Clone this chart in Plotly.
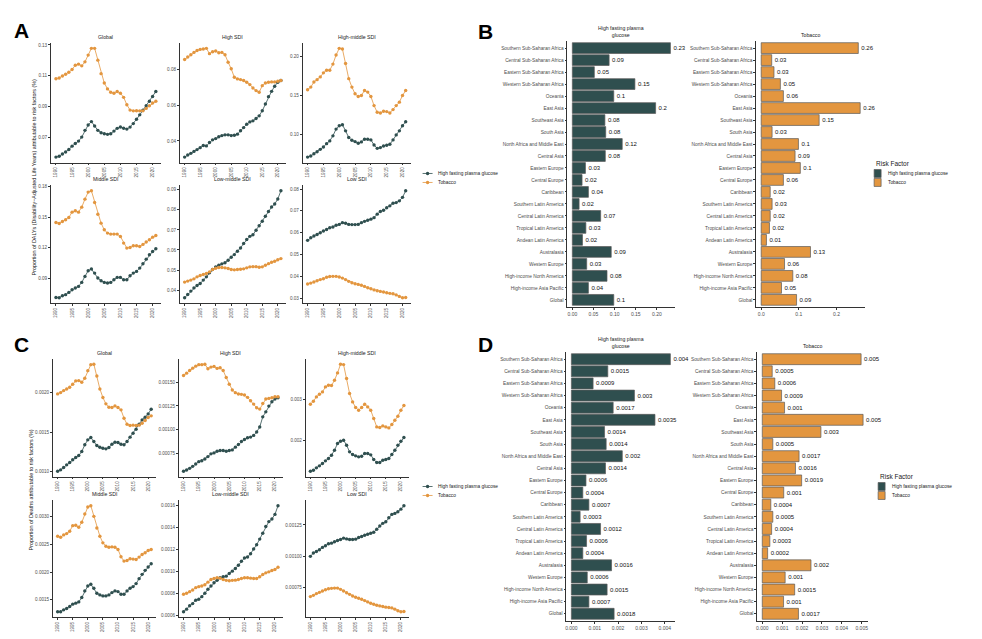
import plotly.graph_objects as go

W, H = 982, 639
OFF = 8  # the page body margin shifts the plot by this many pixels
DARK = "#2F4F4F"
ORANGE = "#E3963F"
EDGE = "#5A5A5A"
AXIS = "#333333"
TICKTXT = "#4D4D4D"
FONT = "Liberation Sans, Arial, sans-serif"

years = list(range(1990, 2022))
panel_names = ["Global", "High SDI", "High-middle SDI", "Middle SDI", "Low-middle SDI", "Low SDI"]

# A: proportion of DALYs attributable to risk factors
a_glu_global = [0.0570, 0.0575, 0.0590, 0.0603, 0.0619, 0.0641, 0.0658, 0.0674, 0.0700, 0.0744, 0.0779, 0.0801, 0.0772, 0.0744, 0.0728, 0.0722,
                0.0718, 0.0722, 0.0739, 0.0757, 0.0766, 0.0758, 0.0752, 0.0765, 0.0788, 0.0816, 0.0845, 0.0876, 0.0904, 0.0933, 0.0964, 0.0997]
a_tob_global = [0.1080, 0.1085, 0.1098, 0.1109, 0.1122, 0.1140, 0.1168, 0.1175, 0.1164, 0.1190, 0.1234, 0.1278, 0.1278, 0.1201, 0.1113, 0.1052,
                0.1014, 0.0992, 0.0986, 0.0997, 0.0986, 0.0959, 0.0911, 0.0876, 0.0871, 0.0872, 0.0871, 0.0871, 0.0887, 0.0904, 0.0922, 0.0933]
a_glu_high = [0.0309, 0.0321, 0.0330, 0.0341, 0.0351, 0.0362, 0.0374, 0.0372, 0.0391, 0.0406, 0.0413, 0.0423, 0.0430, 0.0434, 0.0434, 0.0430,
              0.0432, 0.0438, 0.0457, 0.0475, 0.0494, 0.0507, 0.0513, 0.0526, 0.0541, 0.0570, 0.0608, 0.0649, 0.0679, 0.0708, 0.0730, 0.0740]
a_tob_high = [0.0858, 0.0872, 0.0885, 0.0898, 0.0909, 0.0915, 0.0917, 0.0921, 0.0891, 0.0902, 0.0906, 0.0896, 0.0898, 0.0885, 0.0843, 0.0806,
              0.0758, 0.0749, 0.0745, 0.0740, 0.0730, 0.0717, 0.0698, 0.0683, 0.0674, 0.0711, 0.0726, 0.0730, 0.0732, 0.0732, 0.0736, 0.0740]
a_glu_hm = [0.0707, 0.0720, 0.0750, 0.0776, 0.0806, 0.0836, 0.0879, 0.0914, 0.0979, 0.1065, 0.1108, 0.1121, 0.1043, 0.0957, 0.0922, 0.0905,
            0.0884, 0.0901, 0.0935, 0.0935, 0.0927, 0.0862, 0.0819, 0.0828, 0.0849, 0.0858, 0.0871, 0.0927, 0.0991, 0.1043, 0.1108, 0.1160]
a_tob_hm = [0.1569, 0.1603, 0.1668, 0.1698, 0.1733, 0.1785, 0.1819, 0.1819, 0.1897, 0.2013, 0.2099, 0.2091, 0.1905, 0.1711, 0.1603, 0.1517,
            0.1483, 0.1496, 0.1560, 0.1539, 0.1483, 0.1366, 0.1280, 0.1272, 0.1293, 0.1289, 0.1272, 0.1315, 0.1366, 0.1410, 0.1496, 0.1560]
a_glu_mid = [0.0714, 0.0711, 0.0731, 0.0741, 0.0763, 0.0789, 0.0806, 0.0822, 0.0861, 0.0920, 0.0975, 0.0992, 0.0952, 0.0904, 0.0877, 0.0861,
             0.0855, 0.0861, 0.0887, 0.0910, 0.0910, 0.0887, 0.0887, 0.0926, 0.0952, 0.0969, 0.1001, 0.1044, 0.1089, 0.1132, 0.1164, 0.1190]
a_tob_mid = [0.1448, 0.1438, 0.1458, 0.1474, 0.1497, 0.1549, 0.1562, 0.1549, 0.1598, 0.1676, 0.1745, 0.1758, 0.1644, 0.1529, 0.1441, 0.1376,
             0.1344, 0.1334, 0.1334, 0.1334, 0.1311, 0.1246, 0.1197, 0.1203, 0.1220, 0.1220, 0.1213, 0.1233, 0.1256, 0.1278, 0.1304, 0.1321]
a_glu_lm = [0.0362, 0.0378, 0.0395, 0.0411, 0.0423, 0.0433, 0.0450, 0.0466, 0.0486, 0.0503, 0.0516, 0.0524, 0.0531, 0.0536, 0.0549, 0.0564,
            0.0577, 0.0594, 0.0610, 0.0632, 0.0652, 0.0668, 0.0676, 0.0698, 0.0721, 0.0743, 0.0768, 0.0792, 0.0814, 0.0829, 0.0854, 0.0895]
a_tob_lm = [0.0440, 0.0445, 0.0450, 0.0456, 0.0466, 0.0473, 0.0478, 0.0483, 0.0491, 0.0503, 0.0509, 0.0513, 0.0513, 0.0511, 0.0508, 0.0503,
            0.0501, 0.0503, 0.0504, 0.0506, 0.0511, 0.0516, 0.0517, 0.0517, 0.0514, 0.0516, 0.0524, 0.0532, 0.0539, 0.0544, 0.0551, 0.0557]
a_glu_low = [0.0565, 0.0577, 0.0585, 0.0592, 0.0600, 0.0608, 0.0615, 0.0623, 0.0626, 0.0634, 0.0638, 0.0646, 0.0643, 0.0638, 0.0637, 0.0637,
             0.0638, 0.0646, 0.0652, 0.0657, 0.0662, 0.0669, 0.0685, 0.0697, 0.0703, 0.0714, 0.0723, 0.0735, 0.0738, 0.0746, 0.0762, 0.0792]
a_tob_low = [0.0365, 0.0369, 0.0374, 0.0380, 0.0385, 0.0389, 0.0396, 0.0399, 0.0400, 0.0400, 0.0397, 0.0392, 0.0385, 0.0377, 0.0371, 0.0366,
             0.0363, 0.0359, 0.0354, 0.0348, 0.0343, 0.0338, 0.0334, 0.0331, 0.0328, 0.0325, 0.0322, 0.0320, 0.0315, 0.0308, 0.0302, 0.0303]

# C: proportion of deaths attributable to risk factors
c_glu_global = [0.001004, 0.001021, 0.001051, 0.001084, 0.001114, 0.001148, 0.001177, 0.001203, 0.001253, 0.001338, 0.001401, 0.001430, 0.001380, 0.001329, 0.001308, 0.001295,
                0.001287, 0.001304, 0.001346, 0.001371, 0.001367, 0.001346, 0.001338, 0.001380, 0.001435, 0.001485, 0.001536, 0.001599, 0.001654, 0.001688, 0.001730, 0.001789]
c_tob_global = [0.001983, 0.002000, 0.002025, 0.002046, 0.002068, 0.002105, 0.002148, 0.002152, 0.002131, 0.002181, 0.002278, 0.002354, 0.002359, 0.002211, 0.002046, 0.001937,
                0.001857, 0.001814, 0.001810, 0.001831, 0.001810, 0.001781, 0.001675, 0.001599, 0.001582, 0.001587, 0.001582, 0.001587, 0.001612, 0.001646, 0.001684, 0.001705]
c_glu_high = [0.000560, 0.000572, 0.000590, 0.000611, 0.000636, 0.000661, 0.000671, 0.000689, 0.000714, 0.000743, 0.000753, 0.000771, 0.000778, 0.000778, 0.000771, 0.000778,
              0.000785, 0.000814, 0.000842, 0.000874, 0.000895, 0.000913, 0.000920, 0.000938, 0.000974, 0.001027, 0.001134, 0.001187, 0.001248, 0.001294, 0.001322, 0.001336]
c_tob_high = [0.001571, 0.001596, 0.001624, 0.001649, 0.001670, 0.001686, 0.001686, 0.001690, 0.001642, 0.001660, 0.001667, 0.001646, 0.001653, 0.001624, 0.001550, 0.001479,
              0.001418, 0.001390, 0.001376, 0.001372, 0.001365, 0.001340, 0.001304, 0.001269, 0.001230, 0.001216, 0.001276, 0.001322, 0.001329, 0.001336, 0.001347, 0.001347]
c_glu_hm = [0.001272, 0.001296, 0.001352, 0.001400, 0.001456, 0.001520, 0.001576, 0.001656, 0.001776, 0.001936, 0.001992, 0.002016, 0.001896, 0.001736, 0.001672, 0.001640,
            0.001616, 0.001632, 0.001696, 0.001696, 0.001664, 0.001552, 0.001480, 0.001480, 0.001536, 0.001552, 0.001576, 0.001672, 0.001776, 0.001896, 0.001992, 0.002080]
c_tob_hm = [0.002880, 0.002952, 0.003056, 0.003120, 0.003176, 0.003296, 0.003336, 0.003328, 0.003456, 0.003632, 0.003840, 0.003832, 0.003496, 0.003136, 0.002936, 0.002800,
            0.002736, 0.002800, 0.002880, 0.002816, 0.002736, 0.002536, 0.002336, 0.002320, 0.002360, 0.002336, 0.002312, 0.002392, 0.002496, 0.002592, 0.002736, 0.002848]
c_glu_mid = [0.001286, 0.001286, 0.001321, 0.001345, 0.001381, 0.001423, 0.001441, 0.001464, 0.001542, 0.001661, 0.001750, 0.001780, 0.001708, 0.001619, 0.001589, 0.001571,
             0.001571, 0.001589, 0.001631, 0.001661, 0.001649, 0.001601, 0.001601, 0.001661, 0.001708, 0.001738, 0.001792, 0.001881, 0.001958, 0.002030, 0.002089, 0.002149]
c_tob_mid = [0.002643, 0.002625, 0.002667, 0.002690, 0.002732, 0.002833, 0.002839, 0.002804, 0.002893, 0.003042, 0.003167, 0.003190, 0.003000, 0.002792, 0.002643, 0.002524,
             0.002464, 0.002446, 0.002452, 0.002446, 0.002405, 0.002274, 0.002196, 0.002208, 0.002238, 0.002232, 0.002226, 0.002268, 0.002316, 0.002345, 0.002387, 0.002405]
c_glu_lm = [0.000636, 0.000660, 0.000690, 0.000710, 0.000740, 0.000749, 0.000773, 0.000803, 0.000839, 0.000869, 0.000899, 0.000920, 0.000943, 0.000952, 0.000958, 0.000982,
            0.001003, 0.001027, 0.001057, 0.001093, 0.001122, 0.001131, 0.001161, 0.001203, 0.001242, 0.001293, 0.001346, 0.001406, 0.001451, 0.001475, 0.001516, 0.001594]
c_tob_lm = [0.000794, 0.000803, 0.000818, 0.000833, 0.000854, 0.000863, 0.000869, 0.000881, 0.000904, 0.000928, 0.000937, 0.000943, 0.000940, 0.000928, 0.000920, 0.000916,
            0.000920, 0.000922, 0.000928, 0.000937, 0.000943, 0.000943, 0.000940, 0.000937, 0.000937, 0.000952, 0.000973, 0.000988, 0.000997, 0.001009, 0.001018, 0.001039]
c_glu_low = [0.001000, 0.001026, 0.001039, 0.001053, 0.001071, 0.001084, 0.001100, 0.001105, 0.001116, 0.001126, 0.001134, 0.001145, 0.001139, 0.001134, 0.001134, 0.001137,
             0.001150, 0.001158, 0.001168, 0.001176, 0.001184, 0.001192, 0.001216, 0.001242, 0.001263, 0.001276, 0.001308, 0.001334, 0.001342, 0.001355, 0.001376, 0.001403]
c_tob_low = [0.000679, 0.000689, 0.000703, 0.000713, 0.000724, 0.000734, 0.000742, 0.000745, 0.000747, 0.000747, 0.000737, 0.000724, 0.000710, 0.000697, 0.000684, 0.000674,
             0.000666, 0.000658, 0.000647, 0.000637, 0.000626, 0.000618, 0.000610, 0.000605, 0.000600, 0.000595, 0.000592, 0.000589, 0.000579, 0.000566, 0.000558, 0.000560]

# B / D: by region
bar_regions = ["Southern Sub-Saharan Africa", "Central Sub-Saharan Africa", "Eastern Sub-Saharan Africa", "Western Sub-Saharan Africa",
               "Oceania", "East Asia", "Southeast Asia", "South Asia", "North Africa and Middle East", "Central Asia",
               "Eastern Europe", "Central Europe", "Caribbean", "Southern Latin America", "Central Latin America",
               "Tropical Latin America", "Andean Latin America", "Australasia", "Western Europe",
               "High-income North America", "High-income Asia Pacific", "Global"]
b_glucose = [0.232, 0.087, 0.052, 0.148, 0.098, 0.197, 0.077, 0.079, 0.118, 0.078, 0.031,
             0.023, 0.038, 0.016, 0.067, 0.032, 0.024, 0.092, 0.034, 0.082, 0.038, 0.098]
b_glucose_lbl = ["0.23", "0.09", "0.05", "0.15", "0.1", "0.2", "0.08", "0.08", "0.12", "0.08", "0.03",
                 "0.02", "0.04", "0.02", "0.07", "0.03", "0.02", "0.09", "0.03", "0.08", "0.04", "0.1"]
b_tobacco = [0.258, 0.028, 0.034, 0.051, 0.059, 0.263, 0.154, 0.029, 0.099, 0.090, 0.104,
             0.059, 0.024, 0.029, 0.024, 0.022, 0.014, 0.131, 0.062, 0.084, 0.054, 0.094]
b_tobacco_lbl = ["0.26", "0.03", "0.03", "0.05", "0.06", "0.26", "0.15", "0.03", "0.1", "0.09", "0.1",
                 "0.06", "0.02", "0.03", "0.02", "0.02", "0.01", "0.13", "0.06", "0.08", "0.05", "0.09"]
d_glucose = [0.00424, 0.00156, 0.00093, 0.00270, 0.00179, 0.00358, 0.00142, 0.00149, 0.00218, 0.00146, 0.000625,
             0.00049, 0.00075, 0.000375, 0.00125, 0.00065, 0.00049, 0.00172, 0.00068, 0.00153, 0.00075, 0.00183]
d_glucose_lbl = ["0.004", "0.0015", "0.0009", "0.003", "0.0017", "0.0035", "0.0014", "0.0014", "0.002", "0.0014", "0.0006",
                 "0.0004", "0.0007", "0.0003", "0.0012", "0.0006", "0.0004", "0.0016", "0.0006", "0.0015", "0.0007", "0.0018"]
d_tobacco = [0.00497, 0.00050, 0.00063, 0.00097, 0.00112, 0.00507, 0.00295, 0.00053, 0.00185, 0.00167, 0.00198,
             0.00108, 0.00043, 0.00053, 0.00047, 0.00038, 0.00027, 0.00245, 0.00115, 0.00163, 0.00107, 0.00182]
d_tobacco_lbl = ["0.005", "0.0005", "0.0006", "0.0009", "0.001", "0.005", "0.003", "0.0005", "0.0017", "0.0016", "0.0019",
                 "0.001", "0.0004", "0.0005", "0.0004", "0.0003", "0.0002", "0.002", "0.001", "0.0015", "0.001", "0.0017"]

a_glucose = [a_glu_global, a_glu_high, a_glu_hm, a_glu_mid, a_glu_lm, a_glu_low]
a_tobacco = [a_tob_global, a_tob_high, a_tob_hm, a_tob_mid, a_tob_lm, a_tob_low]
c_glucose = [c_glu_global, c_glu_high, c_glu_hm, c_glu_mid, c_glu_lm, c_glu_low]
c_tobacco = [c_tob_global, c_tob_high, c_tob_hm, c_tob_mid, c_tob_lm, c_tob_low]

# tick0, dtick, format for each small multiple
a_ticks = [(0.01, 0.02, ".2f"), (0, 0.02, ".2f"), (0, 0.05, ".2f"), (0, 0.03, ".2f"), (0, 0.01, ".2f"), (0, 0.01, ".2f")]
c_ticks = [(0, 0.0005, ".4f"), (0, 0.00025, ".5f"), (0, 0.001, ".3f"), (0, 0.0005, ".4f"), (0, 0.0002, ".4f"), (0, 0.00025, ".5f")]


# page pixel -> paper fraction
def fx(px):
    return (px - OFF) / W


def fy(py):
    return 1 - (py - OFF) / H


def axis_style(size=5):
    return dict(showline=True, linecolor=AXIS, linewidth=0.8, ticks="outside", ticklen=2, tickwidth=0.6,
                tickcolor=AXIS, tickfont=dict(size=size, color=TICKTXT, family=FONT),
                showgrid=False, zeroline=False)


def note(x, y, text, size, **kw):
    d = dict(x=fx(x), y=fy(y), xref="paper", yref="paper", text=text, showarrow=False,
             xanchor="center", yanchor="middle", font=dict(size=size, color="#1A1A1A", family=FONT))
    d.update(kw)
    return d


fig = go.Figure()
layout = {}
annotations = []
shapes = []
n = 0

# line panels (A and C)
blocks = [
    (a_glucose, a_tobacco, a_ticks, [(50, 160), (179, 285), (302, 410)], [(42, 162), (185, 303)]),
    (c_glucose, c_tobacco, c_ticks, [(52, 155), (178, 282), (305, 408)], [(359, 477), (501, 618)]),
]
for glu, tob, ticks, cols, rows in blocks:
    for k in range(6):
        n += 1
        col = cols[k % 3]
        row = rows[k // 3]
        xa = "x" if n == 1 else f"x{n}"
        ya = "y" if n == 1 else f"y{n}"
        lo = min(glu[k] + tob[k])
        hi = max(glu[k] + tob[k])
        pad = 0.05 * (hi - lo)
        t0, dt, fmt = ticks[k]
        layout["xaxis" if n == 1 else f"xaxis{n}"] = dict(
            domain=[fx(col[0]), fx(col[1])], anchor=ya, range=[1988.45, 2022.55], tick0=1990, dtick=5,
            tickangle=-90, **axis_style(4.6))
        layout["yaxis" if n == 1 else f"yaxis{n}"] = dict(
            domain=[fy(row[1]), fy(row[0])], anchor=xa, range=[lo - pad, hi + pad], tick0=t0, dtick=dt,
            tickformat=fmt, **axis_style(4.6))
        fig.add_trace(go.Scatter(x=years, y=glu[k], mode="lines+markers", name="High fasting plasma glucose",
                                 line=dict(color=DARK, width=0.8), marker=dict(color=DARK, size=3.4),
                                 xaxis=xa, yaxis=ya, showlegend=False))
        fig.add_trace(go.Scatter(x=years, y=tob[k], mode="lines+markers", name="Tobacco",
                                 line=dict(color=ORANGE, width=0.8), marker=dict(color=ORANGE, size=3.4),
                                 xaxis=xa, yaxis=ya, showlegend=False))
        annotations.append(note((col[0] + col[1]) / 2, row[0] - 1, panel_names[k], 5.2, yanchor="bottom"))

# bar panels (B and D)
bar_blocks = [
    (b_glucose, b_glucose_lbl, DARK, "High fasting plasma<br>glucose", (567, 675), (40, 307), 0.05, ".2f"),
    (b_tobacco, b_tobacco_lbl, ORANGE, "Tobacco", (756, 865), (40, 307), 0.1, ".1f"),
    (d_glucose, d_glucose_lbl, DARK, "High fasting plasma<br>glucose", (566, 675), (352, 622), 0.001, ".3f"),
    (d_tobacco, d_tobacco_lbl, ORANGE, "Tobacco", (757, 868), (352, 622), 0.001, ".3f"),
]
for vals, lbls, color, title, col, row, dt, fmt in bar_blocks:
    n += 1
    xa = f"x{n}"
    ya = f"y{n}"
    top = max(vals)
    layout[f"xaxis{n}"] = dict(domain=[fx(col[0]), fx(col[1])], anchor=ya, range=[-0.05 * top, 1.05 * top],
                               tick0=0, dtick=dt, tickformat=fmt, **axis_style(5))
    layout[f"yaxis{n}"] = dict(domain=[fy(row[1]), fy(row[0])], anchor=xa, type="category",
                               categoryorder="array", categoryarray=bar_regions,
                               range=[len(bar_regions) - 0.4, -0.6], **axis_style(4.8))
    fig.add_trace(go.Bar(y=bar_regions, x=vals, orientation="h", text=lbls, textposition="outside",
                         textangle=0, constraintext="none", cliponaxis=False,
                         textfont=dict(size=6, color="#111111", family=FONT),
                         marker=dict(color=color, line=dict(color=EDGE, width=0.7)),
                         xaxis=xa, yaxis=ya, showlegend=False))
    annotations.append(note((col[0] + col[1]) / 2, row[0] - 1, title, 5.2, yanchor="bottom"))

# panel letters
for letter, x, y in [("A", 21, 30), ("B", 485, 31), ("C", 21, 345), ("D", 485, 345)]:
    annotations.append(note(x, y, f"<b>{letter}</b>", 21))
    annotations[-1]["font"]["color"] = "black"

# y titles
annotations.append(note(33, 176, "Proportion of DALYs (Disability\u2212Adjusted Life Years) attributable to risk factors (%)",
                        5.4, textangle=-90))
annotations.append(note(31, 490, "Proportion of Deaths attributable to risk factors (%)", 5.4, textangle=-90))

# legends for line panels
for y0 in (173, 487):
    for i, (color, label) in enumerate([(DARK, "High fasting plasma glucose"), (ORANGE, "Tobacco")]):
        yp = y0 + 9 * i
        shapes.append(dict(type="line", xref="paper", yref="paper", x0=fx(422), x1=fx(432), y0=fy(yp), y1=fy(yp),
                           line=dict(color=color, width=0.8)))
        shapes.append(dict(type="circle", xref="paper", yref="paper", x0=fx(425.3), x1=fx(428.7),
                           y0=fy(yp + 1.7), y1=fy(yp - 1.7), fillcolor=color, line=dict(width=0)))
        annotations.append(note(435, yp, label, 4.8, xanchor="left"))

# legends for bar panels
for lx, ty in [(874, 163), (878, 477)]:
    annotations.append(note(lx, ty, "Risk Factor", 6.5, xanchor="left"))
    for i, (color, label) in enumerate([(DARK, "High fasting plasma glucose"), (ORANGE, "Tobacco")]):
        yc = ty + 10 + 9 * i
        shapes.append(dict(type="rect", xref="paper", yref="paper", x0=fx(lx), x1=fx(lx + 7),
                           y0=fy(yc + 4), y1=fy(yc - 4), fillcolor=color, line=dict(color=EDGE, width=0.7)))
        annotations.append(note(lx + 12, yc, label, 4.8, xanchor="left"))

fig.update_layout(
    width=W, height=H, margin=dict(l=0, r=0, t=0, b=0),
    paper_bgcolor="white", plot_bgcolor="white", bargap=0.1,
    font=dict(family=FONT), showlegend=False,
    annotations=annotations, shapes=shapes, **layout,
)

fig.write_html("out.html")
